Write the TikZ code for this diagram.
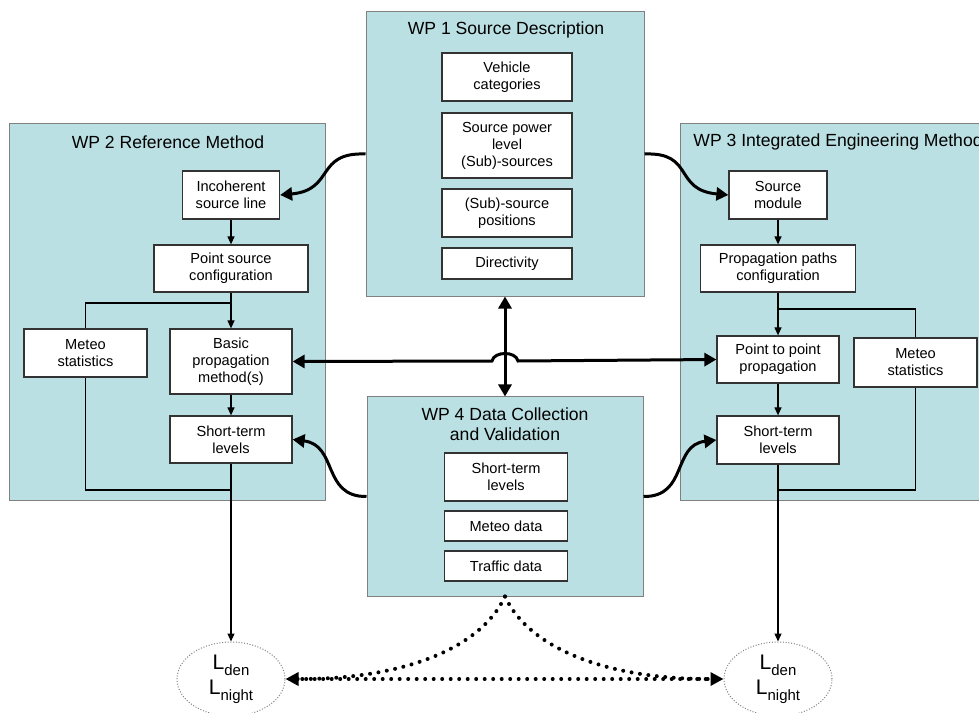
\documentclass[tikz,border=0pt]{standalone}
\usepackage{fontspec}
\setmainfont{Liberation Sans}
\usetikzlibrary{arrows.meta,shapes.geometric}

\definecolor{wpfill}{RGB}{187,224,227}
\definecolor{wpline}{RGB}{128,128,128}
\definecolor{boxline}{RGB}{51,51,51}
\newcommand{\lsub}[1]{L\raisebox{-3.5pt}{\fontsize{8.5}{8.5}\selectfont #1}}

\begin{document}
\begin{tikzpicture}[x=0.2mm,y=-0.2mm,
    wp/.style={draw=wpline,fill=wpfill,line width=0.2mm,inner sep=0pt},
    wptitle/.style={font=\fontsize{10}{11.5}\selectfont,align=center},
    box/.style={draw=boxline,fill=white,line width=0.25mm,align=center,inner sep=1pt,
                font=\fontsize{8.3}{9.7}\selectfont,minimum height=9.6mm},
    level/.style={ellipse,draw=gray,densely dotted,line width=0.2mm,align=center,inner sep=0pt,
                  minimum width=21.6mm,minimum height=14.8mm,font=\fontsize{12}{14.2}\selectfont},
    flow/.style={line width=0.24mm,-{Triangle[length=1.6mm,width=1.4mm]}},
    link/.style={line width=0.24mm},
    big/.style={line width=0.6mm,-{Triangle[length=2.4mm,width=2.6mm]}},
    bigboth/.style={line width=0.6mm,{Triangle[length=2.4mm,width=2.6mm]}-{Triangle[length=2.4mm,width=2.6mm]}},
    dots/.style={line width=0.8mm,line cap=round,dash pattern=on 0pt off 1.7mm}]
  \useasboundingbox (0,0) rectangle (979,713);
  \clip (0,0) rectangle (979,713);

  % work packages
  \node[wp,minimum width=55.6mm,minimum height=56.8mm] (wp1) at (505,154) {};
  \node[wp,minimum width=63mm,minimum height=75.2mm] (wp2) at (167.5,312) {};
  \node[wp,minimum width=63.2mm,minimum height=75.2mm] (wp3) at (838,312) {};
  \node[wp,minimum width=55.2mm,minimum height=39.8mm] (wp4) at (505,496.5) {};
  \node[wptitle] (wp1t) at (506,30) {WP 1 Source Description};
  \node[wptitle] (wp2t) at (168,142) {WP 2 Reference Method};
  \node[wptitle] (wp3t) at (838,142) {WP 3 Integrated Engineering Method};
  \node[wptitle] (wp4t) at (505,424) {WP 4 Data Collection\\and Validation};

  % WP 1
  \node[box,minimum width=26mm] (veh) at (507,77) {Vehicle\\categories};
  \node[box,minimum width=26mm,minimum height=13mm] (spl) at (507,145.5) {Source power\\level\\(Sub)-sources};
  \node[box,minimum width=26mm] (ssp) at (507,213) {(Sub)-source\\positions};
  \node[box,minimum width=26mm,minimum height=6.2mm] (dir) at (507,263.5) {Directivity};

  % WP 2
  \node[box,minimum width=19.4mm] (inc) at (231,195) {Incoherent\\source line};
  \node[box,minimum width=30.8mm,minimum height=9.4mm] (psc) at (231,268.5) {Point source\\configuration};
  \node[box,minimum width=24.6mm] (metL) at (85.5,353) {Meteo\\statistics};
  \node[box,minimum width=24.4mm,minimum height=13mm] (basic) at (231,361.5) {Basic\\propagation\\method(s)};
  \node[box,minimum width=24.4mm,minimum height=9.4mm] (stlL) at (231,439.5) {Short-term\\levels};

  % WP 3
  \node[box,minimum width=19.6mm] (src) at (778,195) {Source\\module};
  \node[box,minimum width=31mm,minimum height=9.4mm] (ppc) at (778,268.5) {Propagation paths\\configuration};
  \node[box,minimum width=24.4mm,minimum height=9.4mm] (p2p) at (778,359.5) {Point to point\\propagation};
  \node[box,minimum width=24.6mm,minimum height=9.8mm] (metR) at (915.5,362.5) {Meteo\\statistics};
  \node[box,minimum width=24.4mm] (stlR) at (778,440) {Short-term\\levels};

  % WP 4
  \node[box,minimum width=24.6mm] (stlC) at (506,477) {Short-term\\levels};
  \node[box,minimum width=24.6mm,minimum height=6mm] (metC) at (506,526) {Meteo data};
  \node[box,minimum width=24.6mm,minimum height=6mm] (trafC) at (506,566) {Traffic data};

  % results
  \node[level] (ldenL) at (231,679) {\lsub{den}\\\lsub{night}};
  \node[level] (ldenR) at (778,679) {\lsub{den}\\\lsub{night}};

  \coordinate (brL) at (231,303);
  \coordinate (jL) at (231,490);
  \coordinate (brR) at (778,309);
  \coordinate (jR) at (778,490);
  \coordinate (hopL) at (492,361);
  \coordinate (hopR) at (518,361);

  % WP 2 flow
  \draw[flow] (inc) -- (psc);
  \draw[flow] (psc) -- (basic);
  \draw[link] (brL) -| (metL);
  \draw[flow] (basic) -- (stlL);
  \draw[link] (metL) |- (jL);
  \draw[flow] (stlL) -- (ldenL);

  % WP 3 flow
  \draw[flow] (src) -- (ppc);
  \draw[flow] (ppc) -- (p2p);
  \draw[link] (brR) -| (metR);
  \draw[flow] (p2p) -- (stlR);
  \draw[link] (metR) |- (jR);
  \draw[flow] (stlR) -- (ldenR);

  % links between work packages
  \draw[big] (wp1.west) .. controls (315,152) and (335,190) .. (inc.east);
  \draw[big] (wp1.east) .. controls (695,152) and (673,190) .. (src.west);
  \draw[big] (wp4.west) .. controls (322,497) and (338,445) .. (stlL.east);
  \draw[big] (wp4.east) .. controls (688,497) and (672,445) .. (stlR.west);
  \draw[bigboth] (basic.east) -- (hopL) .. controls (494,351) and (516,351) .. (hopR) -- (p2p.west);
  \draw[bigboth] (wp1) -- (wp4);

  % validation
  \draw[dots,{Triangle[length=2.6mm,width=2.6mm]}-{Triangle[length=2.6mm,width=2.6mm]}] (ldenL) -- (ldenR);
  \draw[dots,shorten >=3mm] (wp4.south) .. controls (480,650) and (400,679) .. (ldenL.east);
  \draw[dots,shorten >=3mm] (wp4.south) .. controls (530,650) and (610,679) .. (ldenR.west);
\end{tikzpicture}
\end{document}
